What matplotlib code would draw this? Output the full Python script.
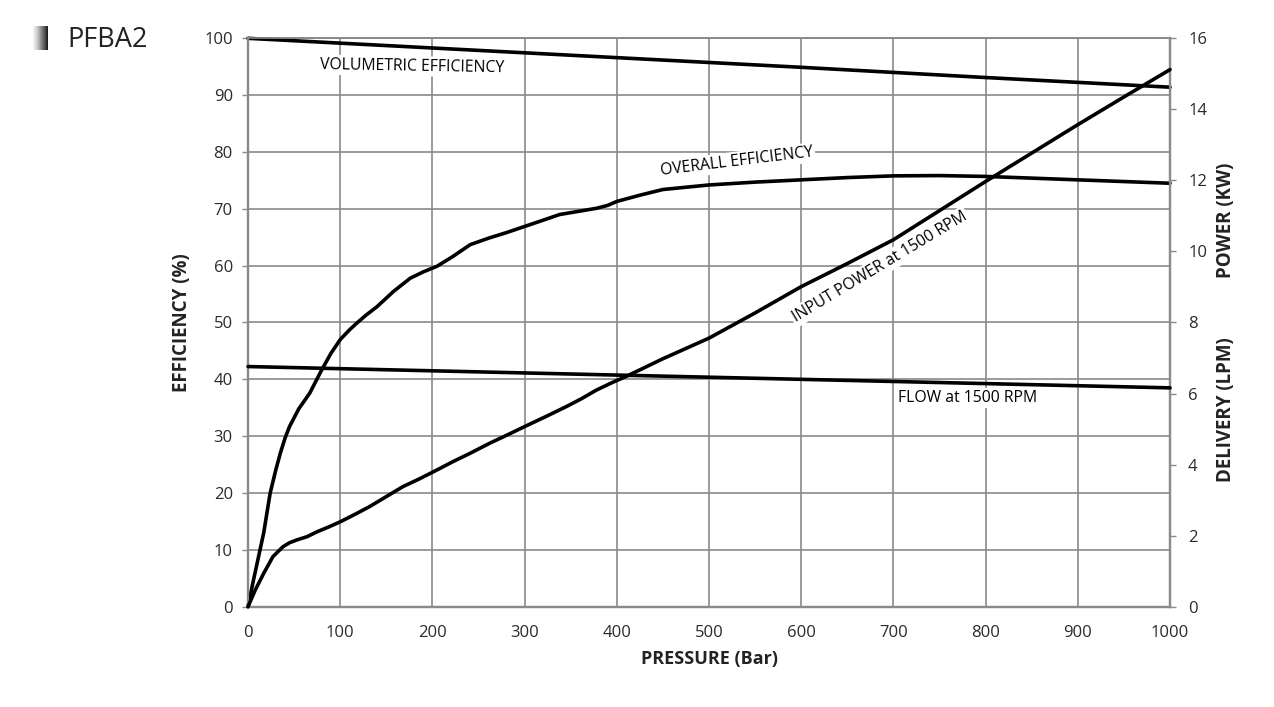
import matplotlib.pyplot as plt
import numpy as np

plt.rcParams['font.family'] = ['Open Sans', 'DejaVu Sans']

# pressure (Bar) points
vol_p = [0, 200, 400, 600, 800, 1000]
vol_eff = [100, 98.3, 96.6, 94.9, 93.1, 91.4]

overall_p = [0, 5, 9, 17, 24, 30, 35, 40, 45, 55, 67, 80, 90, 100, 110, 118, 128, 140, 158,
             176, 190, 205, 222, 241, 262, 280, 300, 320, 338, 360, 378, 390, 400, 425, 450,
             500, 550, 600, 650, 700, 750, 800, 850, 900, 1000]
overall_eff = [0, 4, 7, 13, 20, 24, 27, 29.6, 31.7, 34.8, 37.6, 41.7, 44.6, 47, 48.7, 49.9,
               51.3, 52.8, 55.5, 57.8, 58.9, 59.9, 61.6, 63.7, 64.9, 65.8, 66.9, 68, 69,
               69.6, 70.1, 70.6, 71.3, 72.4, 73.4, 74.2, 74.7, 75.1, 75.5, 75.8, 75.85, 75.7,
               75.4, 75.1, 74.5]

power_p = [0, 8, 17, 27, 38, 45, 53, 64, 75, 88, 100, 116, 132, 150, 168, 186, 205, 222, 241,
           262, 280, 300, 322, 345, 362, 378, 395, 410, 450, 500, 550, 600, 650, 700, 750,
           800, 850, 900, 950, 1000]
power_kw = [0, 0.48, 0.94, 1.41, 1.69, 1.8, 1.88, 1.97, 2.11, 2.25, 2.39, 2.6, 2.82, 3.1, 3.38,
            3.6, 3.85, 4.08, 4.32, 4.6, 4.82, 5.07, 5.34, 5.63, 5.86, 6.1, 6.31, 6.48, 6.98,
            7.56, 8.27, 9.01, 9.66, 10.33, 11.15, 11.97, 12.77, 13.57, 14.35, 15.12]

flow_p = [0, 1000]
flow_lpm = [6.76, 6.16]

x_ticks = list(range(0, 1001, 100))
eff_ticks = list(range(0, 101, 10))
kw_ticks = list(range(0, 17, 2))

fig = plt.figure(figsize=(12.74, 7.07), dpi=100)
ax = fig.add_axes([0.1947, 0.1419, 0.7237, 0.8039])
ax2 = ax.twinx()

grid_col = '#8a8a8a'
ax.set_xlim(0, 1000)
ax.set_ylim(0, 100)
ax.set_xticks(x_ticks)
ax.set_yticks(eff_ticks)
ax.grid(True, color=grid_col, lw=1.2)
ax.set_axisbelow(True)
ax2.set_ylim(0, 16)
ax2.set_yticks(kw_ticks)

for a in (ax, ax2):
    for s in a.spines.values():
        s.set_color(grid_col)
        s.set_linewidth(1.6)
    a.spines['top'].set_linewidth(1.2)
    a.tick_params(colors=grid_col, labelcolor='#2a2a2a', labelsize=12, length=4, width=1)
ax.tick_params(axis='x', pad=13, length=0)
ax.tick_params(axis='y', pad=7)
ax2.tick_params(axis='y', pad=9)

lw = 2.6
style = dict(color='black', lw=lw, clip_on=False, zorder=5, solid_joinstyle='round',
             solid_capstyle='round')
ax.plot(vol_p, vol_eff, **style)
ax.plot(overall_p, overall_eff, **style)
ax2.plot(power_p, power_kw, **style)
ax2.plot(flow_p, flow_lpm, **style)

box = dict(facecolor='white', edgecolor='none', pad=1.5)
fs = 11.3
ax.text(178, 95.1, 'VOLUMETRIC EFFICIENCY', fontsize=fs, ha='center', va='center',
        rotation=-1, bbox=box, zorder=4)
ax.text(530, 78.3, 'OVERALL EFFICIENCY', fontsize=fs, ha='center', va='center',
        rotation=7, bbox=box, zorder=4)
ax.text(685, 59.8, 'INPUT POWER at 1500 RPM', fontsize=fs, ha='center', va='center',
        rotation=31, bbox=box, zorder=4)
ax.text(780, 36.7, 'FLOW at 1500 RPM', fontsize=fs, ha='center', va='center',
        bbox=box, zorder=4)

ax.set_xlabel('PRESSURE (Bar)', fontsize=13, fontweight='bold', color='#222222', labelpad=7)
ax.set_ylabel('EFFICIENCY (%)', fontsize=13.5, fontweight='bold', color='#222222',
              labelpad=9)
fig.text(0.962, 0.689, 'POWER (KW)', fontsize=13.5, fontweight='bold', color='#222222',
         rotation=90, ha='center', va='center')
fig.text(0.962, 0.42, 'DELIVERY (LPM)', fontsize=13.5, fontweight='bold', color='#222222',
         rotation=90, ha='center', va='center')

# title with gradient marker
fig.text(0.053, 0.943, 'PFBA2', fontsize=19.5, color='#222222', ha='left', va='center')
sq = fig.add_axes([33 / 1274, 1 - 50 / 707, 15 / 1274, 24 / 707])
sq.imshow(np.linspace(0, 1, 50).reshape(1, -1), cmap='Greys', vmin=-0.1, vmax=1.1,
          aspect='auto')
sq.axis('off')

fig.savefig('out.png', dpi=100)
